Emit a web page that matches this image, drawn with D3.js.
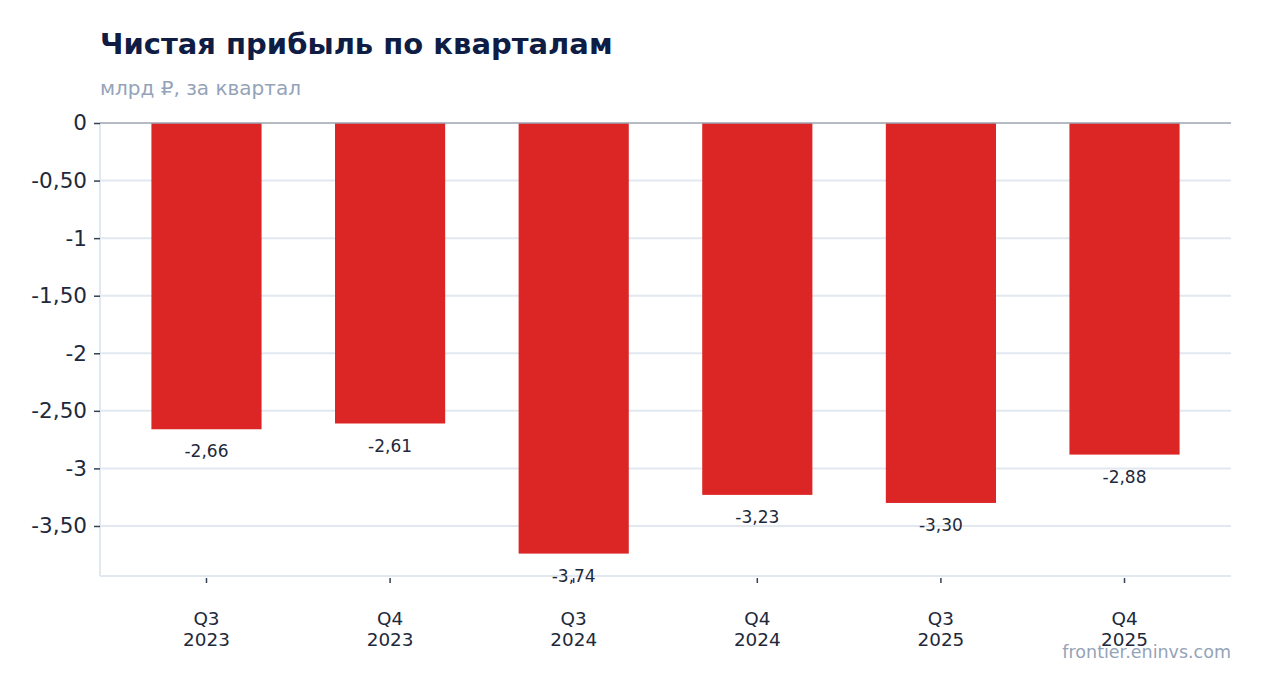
<!DOCTYPE html>
<html>
<head>
<meta charset="utf-8">
<script src="https://cdn.jsdelivr.net/npm/d3@7"></script>
<style>
  body { margin: 0; background: #fff; font-family: "DejaVu Sans", sans-serif; }
</style>
</head>
<body>
<div id="chart"></div>
<script>
// data
var quarters = ["Q3", "Q4", "Q3", "Q4", "Q3", "Q4"];
var years = ["2023", "2023", "2024", "2024", "2025", "2025"];
var profit = [-2.66, -2.61, -3.74, -3.23, -3.30, -2.88];
var yTicks = [0, -0.5, -1, -1.5, -2, -2.5, -3, -3.5];

var W = 1262, H = 693;
var margin = {top: 123, right: 31, bottom: 117, left: 100};
var width = W - margin.left - margin.right;
var height = H - margin.top - margin.bottom;

var labels = quarters.map(function(q, i) { return q + " " + years[i]; });

var svg = d3.select("#chart").append("svg")
  .attr("width", W)
  .attr("height", H);

svg.append("text")
  .attr("x", 100).attr("y", 54)
  .style("font-size", "29px")
  .style("font-weight", "bold")
  .style("fill", "#0f1d45")
  .text("Чистая прибыль по кварталам");

svg.append("text")
  .attr("x", 100).attr("y", 95)
  .style("font-size", "20px")
  .style("fill", "#94a3b8")
  .text("млрд ₽, за квартал");

svg.append("text")
  .attr("x", 1231).attr("y", 658)
  .attr("text-anchor", "end")
  .style("font-size", "17.5px")
  .style("fill", "#94a3b8")
  .text("frontier.eninvs.com");

var g = svg.append("g")
  .attr("transform", "translate(" + margin.left + "," + margin.top + ")");

var x = d3.scaleBand()
  .domain(labels)
  .range([0, width])
  .paddingInner(0.4)
  .paddingOuter(0.28);

var y = d3.scaleLinear()
  .domain([d3.min(profit) * 1.052, 0])
  .range([height, 0]);

var fmt = function(d) {
  return Number.isInteger(d) ? String(d) : d.toFixed(2).replace(".", ",");
};

// grid
g.selectAll(".grid")
  .data(yTicks.filter(function(d) { return d !== 0; }))
  .enter().append("line")
  .attr("x1", 0).attr("x2", width)
  .attr("y1", function(d) { return y(d); })
  .attr("y2", function(d) { return y(d); })
  .style("stroke", "#e2e8f0")
  .style("stroke-width", 2);

// left axis line + bottom line
g.append("line")
  .attr("x1", 0).attr("x2", 0).attr("y1", 0).attr("y2", height)
  .style("stroke", "#e2e8f0").style("stroke-width", 2);
g.append("line")
  .attr("x1", 0).attr("x2", width).attr("y1", height).attr("y2", height)
  .style("stroke", "#e2e8f0").style("stroke-width", 2);

// bars
g.selectAll(".bar")
  .data(profit)
  .enter().append("rect")
  .attr("x", function(d, i) { return x(labels[i]); })
  .attr("y", y(0))
  .attr("width", x.bandwidth())
  .attr("height", function(d) { return y(d) - y(0); })
  .style("fill", "#dc2626");

// zero line
g.append("line")
  .attr("x1", 0).attr("x2", width).attr("y1", y(0)).attr("y2", y(0))
  .style("stroke", "#9ca3af").style("stroke-width", 1.5);

// value labels
g.selectAll(".val")
  .data(profit)
  .enter().append("text")
  .attr("x", function(d, i) { return x(labels[i]) + x.bandwidth() / 2; })
  .attr("y", function(d) { return y(d) + 28; })
  .attr("text-anchor", "middle")
  .style("font-size", "17px")
  .style("fill", "#1e293b")
  .text(function(d) { return fmt(d); });

// y axis
var yAxis = g.append("g")
  .call(d3.axisLeft(y).tickValues(yTicks).tickFormat(fmt).tickSize(6).tickPadding(7));
yAxis.select(".domain").remove();
yAxis.selectAll(".tick line").style("stroke", "#334155").style("stroke-width", 1.5);
yAxis.selectAll(".tick text")
  .style("font-size", "21.5px")
  .style("font-family", "DejaVu Sans, sans-serif")
  .style("fill", "#1e293b");

// x axis
var xAxis = g.append("g")
  .attr("transform", "translate(0," + (height + 2) + ")")
  .call(d3.axisBottom(x).tickSize(5).tickFormat(""));
xAxis.select(".domain").remove();
xAxis.selectAll(".tick line").style("stroke", "#334155").style("stroke-width", 1.5);

var xt = xAxis.selectAll(".tick").append("text")
  .attr("text-anchor", "middle")
  .style("font-size", "18.4px")
  .style("font-family", "DejaVu Sans, sans-serif")
  .style("fill", "#1e293b");
xt.append("tspan").attr("x", 0).attr("y", 47)
  .text(function(d, i) { return quarters[i]; });
xt.append("tspan").attr("x", 0).attr("y", 68)
  .text(function(d, i) { return years[i]; });
</script>
</body>
</html>
